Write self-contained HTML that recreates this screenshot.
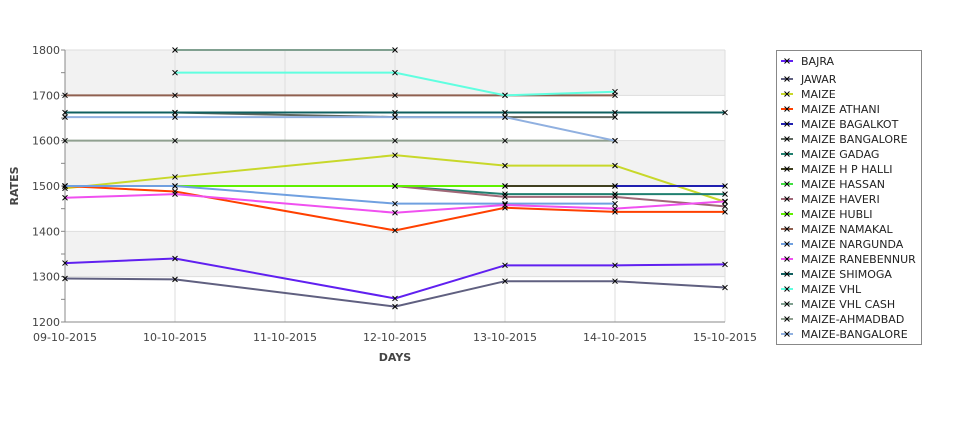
<!DOCTYPE html>
<html><head><meta charset="utf-8"><style>
body{margin:0;background:#fff;font-family:"Liberation Sans","DejaVu Sans",sans-serif;}
svg text{font-family:"DejaVu Sans","Liberation Sans",sans-serif;}
</style></head><body>
<svg id="chart" width="975" height="429" xmlns="http://www.w3.org/2000/svg"></svg>
<script>
const categories=["09-10-2015","10-10-2015","11-10-2015","12-10-2015","13-10-2015","14-10-2015","15-10-2015"];
const yTicks=[1200,1300,1400,1500,1600,1700,1800];
const seriesNames=["BAJRA","JAWAR","MAIZE","MAIZE ATHANI","MAIZE BAGALKOT","MAIZE BANGALORE","MAIZE GADAG","MAIZE H P HALLI","MAIZE HASSAN","MAIZE HAVERI","MAIZE HUBLI","MAIZE NAMAKAL","MAIZE NARGUNDA","MAIZE RANEBENNUR","MAIZE SHIMOGA","MAIZE VHL","MAIZE VHL CASH","MAIZE-AHMADBAD","MAIZE-BANGALORE"];
const colors=["#6020f0","#606080","#c8d82a","#ff4000","#2020b0","#606860","#208070","#404020","#40e040","#a06878","#60f000","#906050","#70a0e0","#f050f0","#106060","#60ffe0","#80a090","#90a090","#90b0e0"];
const N=null;
const vBajra=[1330,1340,N,1252,1325,1325,1327];
const vJawar=[1296,1294,N,1234,1290,1290,1276];
const vMaize=[1495,1520,N,1568,1545,1545,1465];
const vAthani=[1500,1488,N,1402,1452,1443,1443];
const vBagalkot=[N,N,N,N,N,1500,1500];
const vBangalore=[N,1662,N,1652,1652,1652,N];
const vGadag=[N,N,N,1500,1482,1482,1482];
const vHPHalli=[N,N,N,N,1500,1500,N];
const vHassan=[N,N,N,N,N,N,N];
const vHaveri=[N,N,N,1500,1476,1476,1455];
const vHubli=[1500,1500,N,1500,1500,N,N];
const vNamakal=[1700,1700,N,1700,1700,1700,N];
const vNargunda=[1500,1500,N,1461,1461,1461,N];
const vRanebennur=[1474,1482,N,1441,1458,1450,1466];
const vShimoga=[1662,1662,N,1662,1662,1662,1662];
const vVhl=[N,1750,N,1750,1700,1708,N];
const vVhlCash=[N,1800,N,1800,N,N,N];
const vAhmadbad=[1600,1600,N,1600,1600,1600,N];
const vBangalore2=[1652,1652,N,1652,1652,1600,N];
const allSeries=[vBajra,vJawar,vMaize,vAthani,vBagalkot,vBangalore,vGadag,vHPHalli,vHassan,vHaveri,vHubli,vNamakal,vNargunda,vRanebennur,vShimoga,vVhl,vVhlCash,vAhmadbad,vBangalore2];

const NS="http://www.w3.org/2000/svg";
const svg=document.getElementById('chart');
const X0=65,X1=725,Y0=322,Y1=50,vMin=1200,vMax=1800;
const xs=i=>X0+i*(X1-X0)/(categories.length-1);
const ys=v=>Y0-(v-vMin)*(Y0-Y1)/(vMax-vMin);
function mk(t,a,p){const e=document.createElementNS(NS,t);for(const k in a)e.setAttribute(k,a[k]);(p||svg).appendChild(e);return e;}

// bands
for(let i=0;i<yTicks.length-1;i++){
  const b=mk('rect',{x:X0,y:ys(yTicks[i+1]),width:X1-X0,height:ys(yTicks[i])-ys(yTicks[i+1]),fill:(i%2==0)?'#ffffff':'#f2f2f2'});
  
  
}
// grid
yTicks.forEach(t=>{const l=mk('line',{x1:X0,x2:X1,y1:ys(t),y2:ys(t),stroke:'#dddddd','stroke-width':1});
  });
categories.forEach((c,i)=>{const l=mk('line',{x1:xs(i),x2:xs(i),y1:Y1,y2:Y0,stroke:'#dddddd','stroke-width':1});
  });
// axes
const ax=mk('line',{x1:X0,x2:X0,y1:Y1,y2:Y0,stroke:'#888','stroke-width':1});

const bx=mk('line',{x1:X0,x2:X1,y1:Y0,y2:Y0,stroke:'#888','stroke-width':1});

for(let v=vMin;v<=vMax;v+=50){const tk=mk('line',{x1:X0-4,x2:X0,y1:ys(v),y2:ys(v),stroke:'#888'});
  }
yTicks.forEach(t=>{const tx=mk('text',{x:X0-5,y:ys(t)+4,'text-anchor':'end','font-size':11,fill:'#444'});tx.textContent=t;
  });
categories.forEach((c,i)=>{const tx=mk('text',{x:xs(i),y:Y0+19,'text-anchor':'middle','font-size':11,fill:'#444'});tx.textContent=c;
  });
const yt=mk('text',{x:0,y:0,transform:'translate(18,186) rotate(-90)','text-anchor':'middle','font-size':11,'font-weight':'bold',fill:'#444'});yt.textContent='RATES';

const xt=mk('text',{x:395,y:361,'text-anchor':'middle','font-size':11,'font-weight':'bold',fill:'#444'});xt.textContent='DAYS';


// series
allSeries.forEach((vals,s)=>{
  const g=mk('g',{});
  
  
  const pts=[];vals.forEach((v,i)=>{if(v!==null)pts.push([xs(i),ys(v)]);});
  if(pts.length>1){const pl=mk('polyline',{points:pts.map(p=>p.join(',')).join(' '),fill:'none',stroke:colors[s],'stroke-width':2},g);
    }
  pts.forEach(p=>{const m=mk('path',{d:`M${p[0]-2.5},${p[1]-2.5}L${p[0]+2.5},${p[1]+2.5}M${p[0]-2.5},${p[1]+2.5}L${p[0]+2.5},${p[1]-2.5}`,stroke:'#000','stroke-width':1},g);
    });
});

// legend
const lg=mk('g',{});

const lr=mk('rect',{x:776.5,y:50.5,width:145,height:294,fill:'#fff',stroke:'#888'},lg);

seriesNames.forEach((n,i)=>{
  const y=i==0?61:79+(i-1)*15;
  const e=mk('g',{},lg);
  
  mk('line',{x1:781,x2:793,y1:y,y2:y,stroke:colors[i],'stroke-width':2},e);
  mk('path',{d:`M784.5,${y-2.5}L789.5,${y+2.5}M784.5,${y+2.5}L789.5,${y-2.5}`,stroke:'#000','stroke-width':1},e);
  const t=mk('text',{x:801,y:y+4,'font-size':11,fill:'#222'},e);t.textContent=n;
});
</script>
</body></html>
